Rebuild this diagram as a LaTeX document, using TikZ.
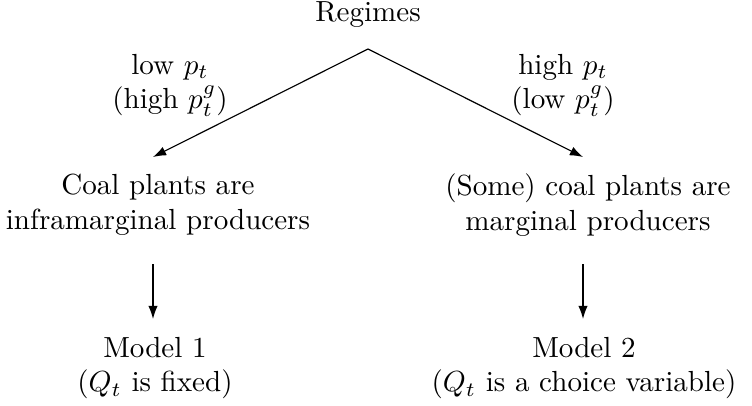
\documentclass[tikz,border=0pt]{standalone}
\usetikzlibrary{arrows.meta}
\begin{document}
\begin{tikzpicture}[x=0.344pt,y=-0.344pt,
  txt/.style={align=center,inner sep=0pt,font=\normalsize},
  conn/.style={-{Latex[length=4.5pt,width=3.2pt]},line width=0.4pt}]
\useasboundingbox (0,0) rectangle (752,406);
\node[txt] (top) at (368,15) {Regimes};
\coordinate (apex) at (368,49);
\coordinate (ltip) at (153,157);
\coordinate (rtip) at (583,157);
\node[txt] (llab) at (170,85) {low $p_t$\\(high $p_t^g$)};
\node[txt] (rlab) at (563,85) {high $p_t$\\(low $p_t^g$)};
\node[txt] (lmid) at (158,205) {Coal plants are\\inframarginal producers};
\node[txt] (rmid) at (588,205) {(Some) coal plants are\\marginal producers};
\node[txt] (lbot) at (155,368) {Model 1\\($Q_t$ is fixed)};
\node[txt] (rbot) at (584,368) {Model 2\\($Q_t$ is a choice variable)};
\coordinate (la) at (153,264);
\coordinate (lb) at (153,319);
\coordinate (ra) at (583,264);
\coordinate (rb) at (583,319);
\draw[conn] (apex) -- (ltip);
\draw[conn] (apex) -- (rtip);
\draw[conn] (la) -- (lb);
\draw[conn] (ra) -- (rb);
\end{tikzpicture}
\end{document}
